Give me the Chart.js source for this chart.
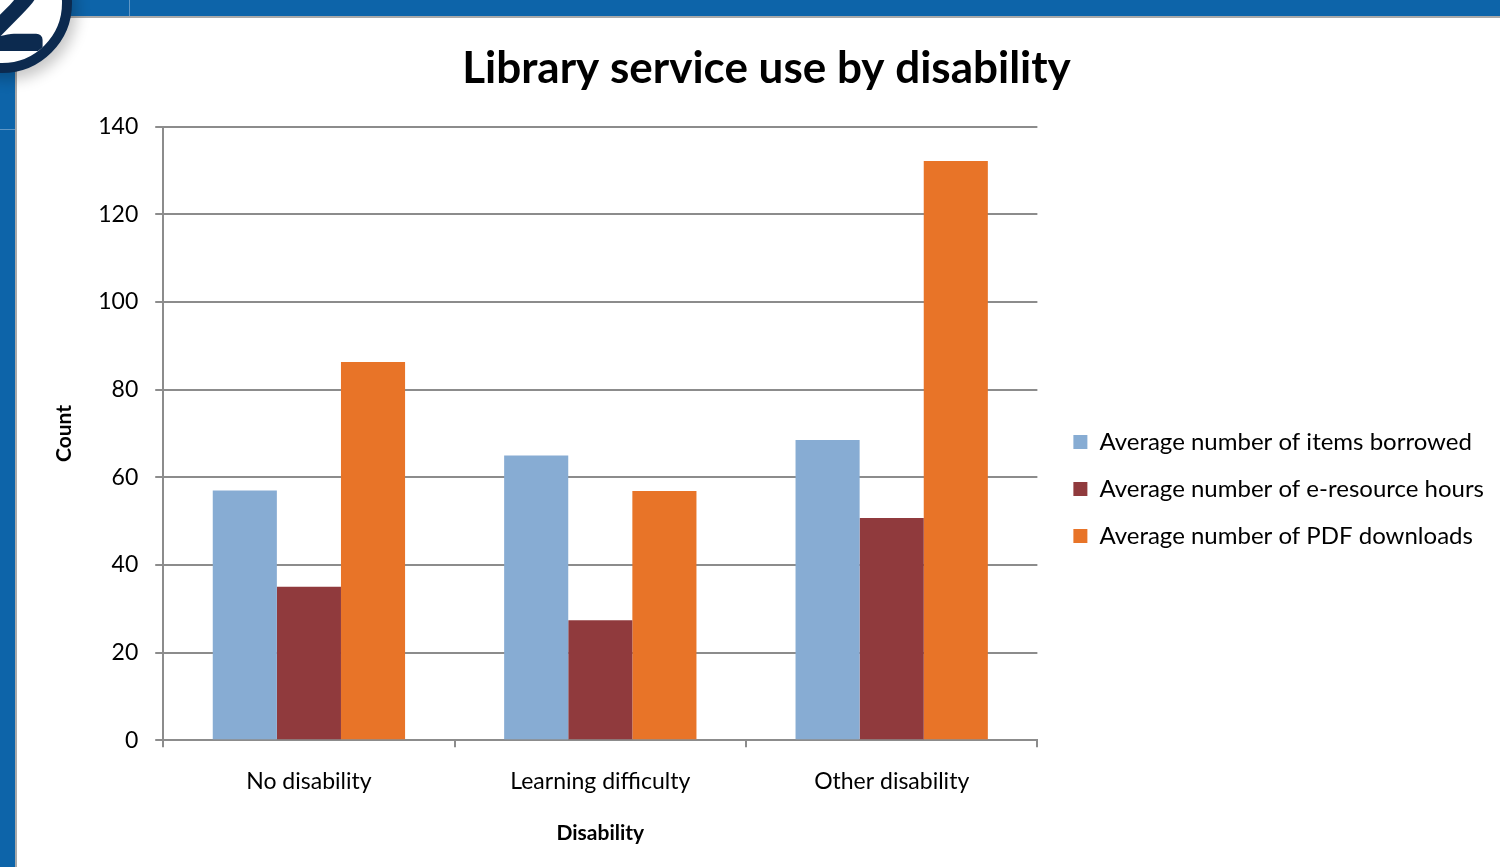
<!DOCTYPE html>
<html>
<head>
<meta charset="utf-8">
<title>Library service use by disability</title>
<script src="https://cdn.jsdelivr.net/npm/chart.js@4/dist/chart.umd.min.js"></script>
<style>
  html, body { margin: 0; padding: 0; background: #fff; overflow: hidden; }
  body { width: 1500px; height: 867px; position: relative; }
  /* slide frame */
  .bar-top { position: absolute; left: 0; top: 0; width: 1500px; height: 16px; background: #0d64a9; border-bottom: 2px solid #a9a9a9; }
  .bar-left { position: absolute; left: 0; top: 0; width: 15px; height: 867px; background: #0d64a9; border-right: 2px solid #a9a9a9; }
  .seam-v { position: absolute; left: 129px; top: 0; width: 1px; height: 16px; background: #5f97c6; }
  .seam-h { position: absolute; left: 0; top: 129px; width: 15px; height: 1px; background: #5f97c6; }
  .badge { position: absolute; left: -68px; top: -67px; width: 120px; height: 120px; border: 10px solid #0c2a4f; border-radius: 50%;
           background: #fff; box-shadow: 5px 7px 14px rgba(0,0,0,0.22); font: 900 136px Lato, sans-serif; color: #0c2a4f;
           display: flex; align-items: center; justify-content: center; line-height: 1; overflow: hidden; }
  .badge span { position: relative; top: -4px; left: 7px; }
  #wrap { position: absolute; left: 17px; top: 18px; width: 1483px; height: 849px; }
</style>
</head>
<body>
<div class="bar-top"></div>
<div class="bar-left"></div>
<div class="seam-v"></div>
<div class="seam-h"></div>
<div class="badge"><span>2</span></div>
<div id="wrap"><canvas id="barChart"></canvas></div>
<script>
// categories and series
const categorias = ['No disability', 'Learning difficulty', 'Other disability'];
const itemsBorrowed = [57, 65, 68.5];
const eResourceHours = [35, 27.4, 50.7];
const pdfDownloads = [86.3, 56.9, 132.2];
const yTicks = [0, 20, 40, 60, 80, 100, 120, 140];

const FONT = 'Lato, "Open Sans", sans-serif';
const GRIS = '#8c8c8c';

// nudge the legend block away from the plot and down a bit
const legendOffset = {
    id: 'legendOffset',
    afterLayout(chart, args, opts) {
        const lg = chart.legend;
        if (!lg) return;
        lg.left += opts.dx; lg.right += opts.dx;
        lg.top += opts.dy; lg.bottom += opts.dy;
    }
};

const ctx = document.getElementById('barChart').getContext('2d');

const chart = new Chart(ctx, {
    type: 'bar',
    data: {
        labels: categorias,
        datasets: [
            { label: 'Average number of items borrowed', data: itemsBorrowed, backgroundColor: '#87acd3' },
            { label: 'Average number of e-resource hours', data: eResourceHours, backgroundColor: '#903a3d' },
            { label: 'Average number of PDF downloads', data: pdfDownloads, backgroundColor: '#e87428' }
        ]
    },
    plugins: [legendOffset],
    options: {
        responsive: true,
        maintainAspectRatio: false,
        animation: false,
        layout: { padding: { left: 35, right: 19, top: 0, bottom: 21 } },
        datasets: { bar: { categoryPercentage: 0.66, barPercentage: 1.0 } },
        scales: {
            x: {
                grid: { drawOnChartArea: false, drawTicks: true, tickLength: 7, color: GRIS, lineWidth: 2 },
                border: { color: GRIS, width: 2 },
                ticks: { color: '#000', font: { family: FONT, size: 23 }, padding: 21 },
                title: { display: true, text: 'Disability', color: '#000', font: { family: FONT, size: 21, weight: 'bold' }, padding: { top: 4, bottom: 0 } }
            },
            y: {
                min: 0, max: 140,
                afterBuildTicks: axis => { axis.ticks = yTicks.map(v => ({ value: v })); },
                grid: { color: GRIS, lineWidth: 2, tickLength: 8 },
                border: { color: GRIS, width: 2 },
                ticks: { color: '#000', font: { family: FONT, size: 23 }, padding: 17 },
                title: { display: true, text: 'Count', color: '#000', font: { family: FONT, size: 21, weight: 'bold' }, padding: { top: 0, bottom: 4 } }
            }
        },
        plugins: {
            legend: {
                position: 'right',
                maxWidth: 600,
                labels: { boxWidth: 14, boxHeight: 14, padding: 23, color: '#000', font: { family: FONT, size: 24 } }
            },
            legendOffset: { dx: 13, dy: 57 },
            title: {
                display: true,
                text: 'Library service use by disability',
                color: '#000',
                font: { family: FONT, size: 44, weight: 'bold' },
                padding: { top: 24, bottom: 32 }
            },
            tooltip: { enabled: false }
        }
    }
});
</script>
</body>
</html>
